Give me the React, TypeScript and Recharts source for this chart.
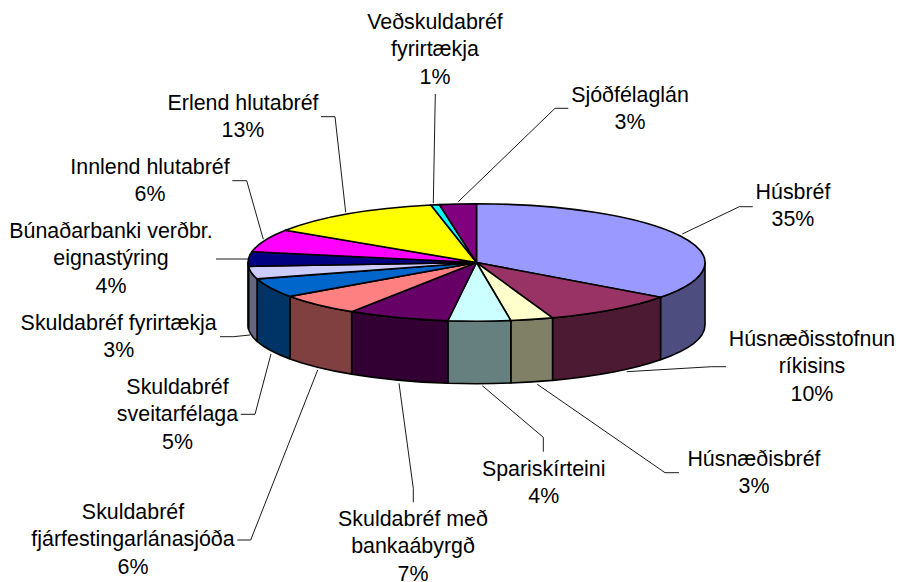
import React from "react";
import { PieChart, Pie } from "recharts";

const CATEGORIES: string[][] = [
  ["Húsbréf"],
  ["Húsnæðisstofnun", "ríkisins"],
  ["Húsnæðisbréf"],
  ["Spariskírteini"],
  ["Skuldabréf með", "bankaábyrgð"],
  ["Skuldabréf", "fjárfestingarlánasjóða"],
  ["Skuldabréf", "sveitarfélaga"],
  ["Skuldabréf fyrirtækja"],
  ["Búnaðarbanki verðbr.", "eignastýring"],
  ["Innlend hlutabréf"],
  ["Erlend hlutabréf"],
  ["Veðskuldabréf", "fyrirtækja"],
  ["Sjóðfélaglán"],
];
const VALUES = [35.1, 9.5, 3.0, 4.4, 7.2, 6.0, 5.3, 3.45, 4.0, 6.3, 12.55, 0.6, 2.6];
const COLORS = ["#9999FF", "#993366", "#FFFFCC", "#CCFFFF", "#660066", "#FF8080", "#0066CC", "#CCCCFF", "#000080", "#FF00FF", "#FFFF00", "#00FFFF", "#800080"];
const SIDE_COLORS = ["#4D4D80", "#4D1A33", "#808066", "#668080", "#330033", "#804040", "#003366", "#666680", "#000040", "#800080", "#808000", "#008080", "#400040"];

// Label placement: centre x and first-baseline y per slice
const LABEL_X = [793, 812, 754, 543.7, 413, 133, 177.5, 118.7, 111, 150, 243, 435, 630];
const LABEL_Y = [199, 346, 465.7, 475.7, 526, 519, 394, 330, 238, 174, 110, 29, 101.7];
const LEADERS: number[][][] = [
  [[682.3, 234], [739.3, 206.7], [752.7, 206.7]],
  [[626.7, 371.7], [711.7, 366.7], [726, 366.7]],
  [[537.3, 384.3], [665, 472.7], [679, 472.7]],
  [[482.3, 385.7], [543.3, 437.3], [543.3, 451.7]],
  [[399, 383.3], [413.3, 488.3], [413.3, 502.3]],
  [[317.7, 370], [250.7, 540], [237.3, 540]],
  [[271, 354], [255, 414.3], [240.7, 414.3]],
  [[250, 335], [233.3, 336.7], [220, 336.7]],
  [[248.3, 259], [230, 259], [216, 259]],
  [[263.3, 239.3], [246.7, 180.7], [232.3, 180.7]],
  [[345.7, 212.3], [335, 116.7], [321, 116.7]],
  [[433.3, 203.3], [435.3, 94]],
  [[458.3, 201.7], [555, 108.3], [568.3, 108.3]],
];

const TILT = 58.7 / 228.5;
const DEPTH = 62.5;
const LINE_HEIGHT = 27.4;
const FONT = "'Liberation Sans', Arial, sans-serif";
const FONT_SIZE = 21.4;

const rows = VALUES.map((value, i) => ({
  name: CATEGORIES[i].join(" "),
  value,
  idx: i,
  fill: COLORS[i],
  side: SIDE_COLORS[i],
}));

const Slice = (p: any) => {
  const { cx, cy, outerRadius: rx, startAngle, endAngle, fill } = p;
  const ry = rx * TILT;
  const side = p.side ?? p.payload?.side;
  const pt = (a: number, dy = 0) => {
    const r = (a * Math.PI) / 180;
    return `${cx + rx * Math.cos(r)} ${cy - ry * Math.sin(r) + dy}`;
  };
  const large = startAngle - endAngle > 180 ? 1 : 0;
  const s = Math.min(startAngle, 0);
  const e = Math.max(endAngle, -180);
  const wall = s > e;
  return (
    <g>
      {wall && (
        <path
          d={`M${pt(s)} A${rx} ${ry} 0 0 1 ${pt(e)} L${pt(e, DEPTH)} A${rx} ${ry} 0 0 0 ${pt(s, DEPTH)} Z`}
          fill={side}
          stroke="#000"
          strokeWidth={1.6}
          strokeLinejoin="round"
        />
      )}
      <path
        d={`M${cx} ${cy} L${pt(startAngle)} A${rx} ${ry} 0 ${large} 1 ${pt(endAngle)} Z`}
        fill={fill}
        stroke="#000"
        strokeWidth={1.6}
        strokeLinejoin="round"
      />
    </g>
  );
};

const SliceLabel = (p: any) => {
  const i: number = p.idx ?? p.payload?.idx;
  const lines = [...CATEGORIES[i], `${Math.round(p.percent * 100)}%`];
  return (
    <g>
      <polyline
        points={LEADERS[i].map((q) => q.join(",")).join(" ")}
        fill="none"
        stroke="#000"
        strokeWidth={0.9}
      />
      {lines.map((t, k) => (
        <text
          key={k}
          x={LABEL_X[i]}
          y={LABEL_Y[i] + k * LINE_HEIGHT}
          textAnchor="middle"
          fill="#000"
          fontFamily={FONT}
          fontSize={FONT_SIZE}
        >
          {t}
        </text>
      ))}
    </g>
  );
};

export default function App() {
  return (
    <div style={{ position: "absolute", left: 0, top: 0, width: 901, height: 582, background: "#fff" }}>
      <PieChart width={901} height={582} margin={{ top: 0, right: 0, bottom: 0, left: 0 }}>
        <Pie
          data={rows}
          dataKey="value"
          nameKey="name"
          cx={476.5}
          cy={262.5}
          innerRadius={0}
          outerRadius={228.5}
          startAngle={90}
          endAngle={-270}
          paddingAngle={0}
          isAnimationActive={false}
          shape={Slice}
          label={SliceLabel}
          labelLine={false}
        />
      </PieChart>
    </div>
  );
}
